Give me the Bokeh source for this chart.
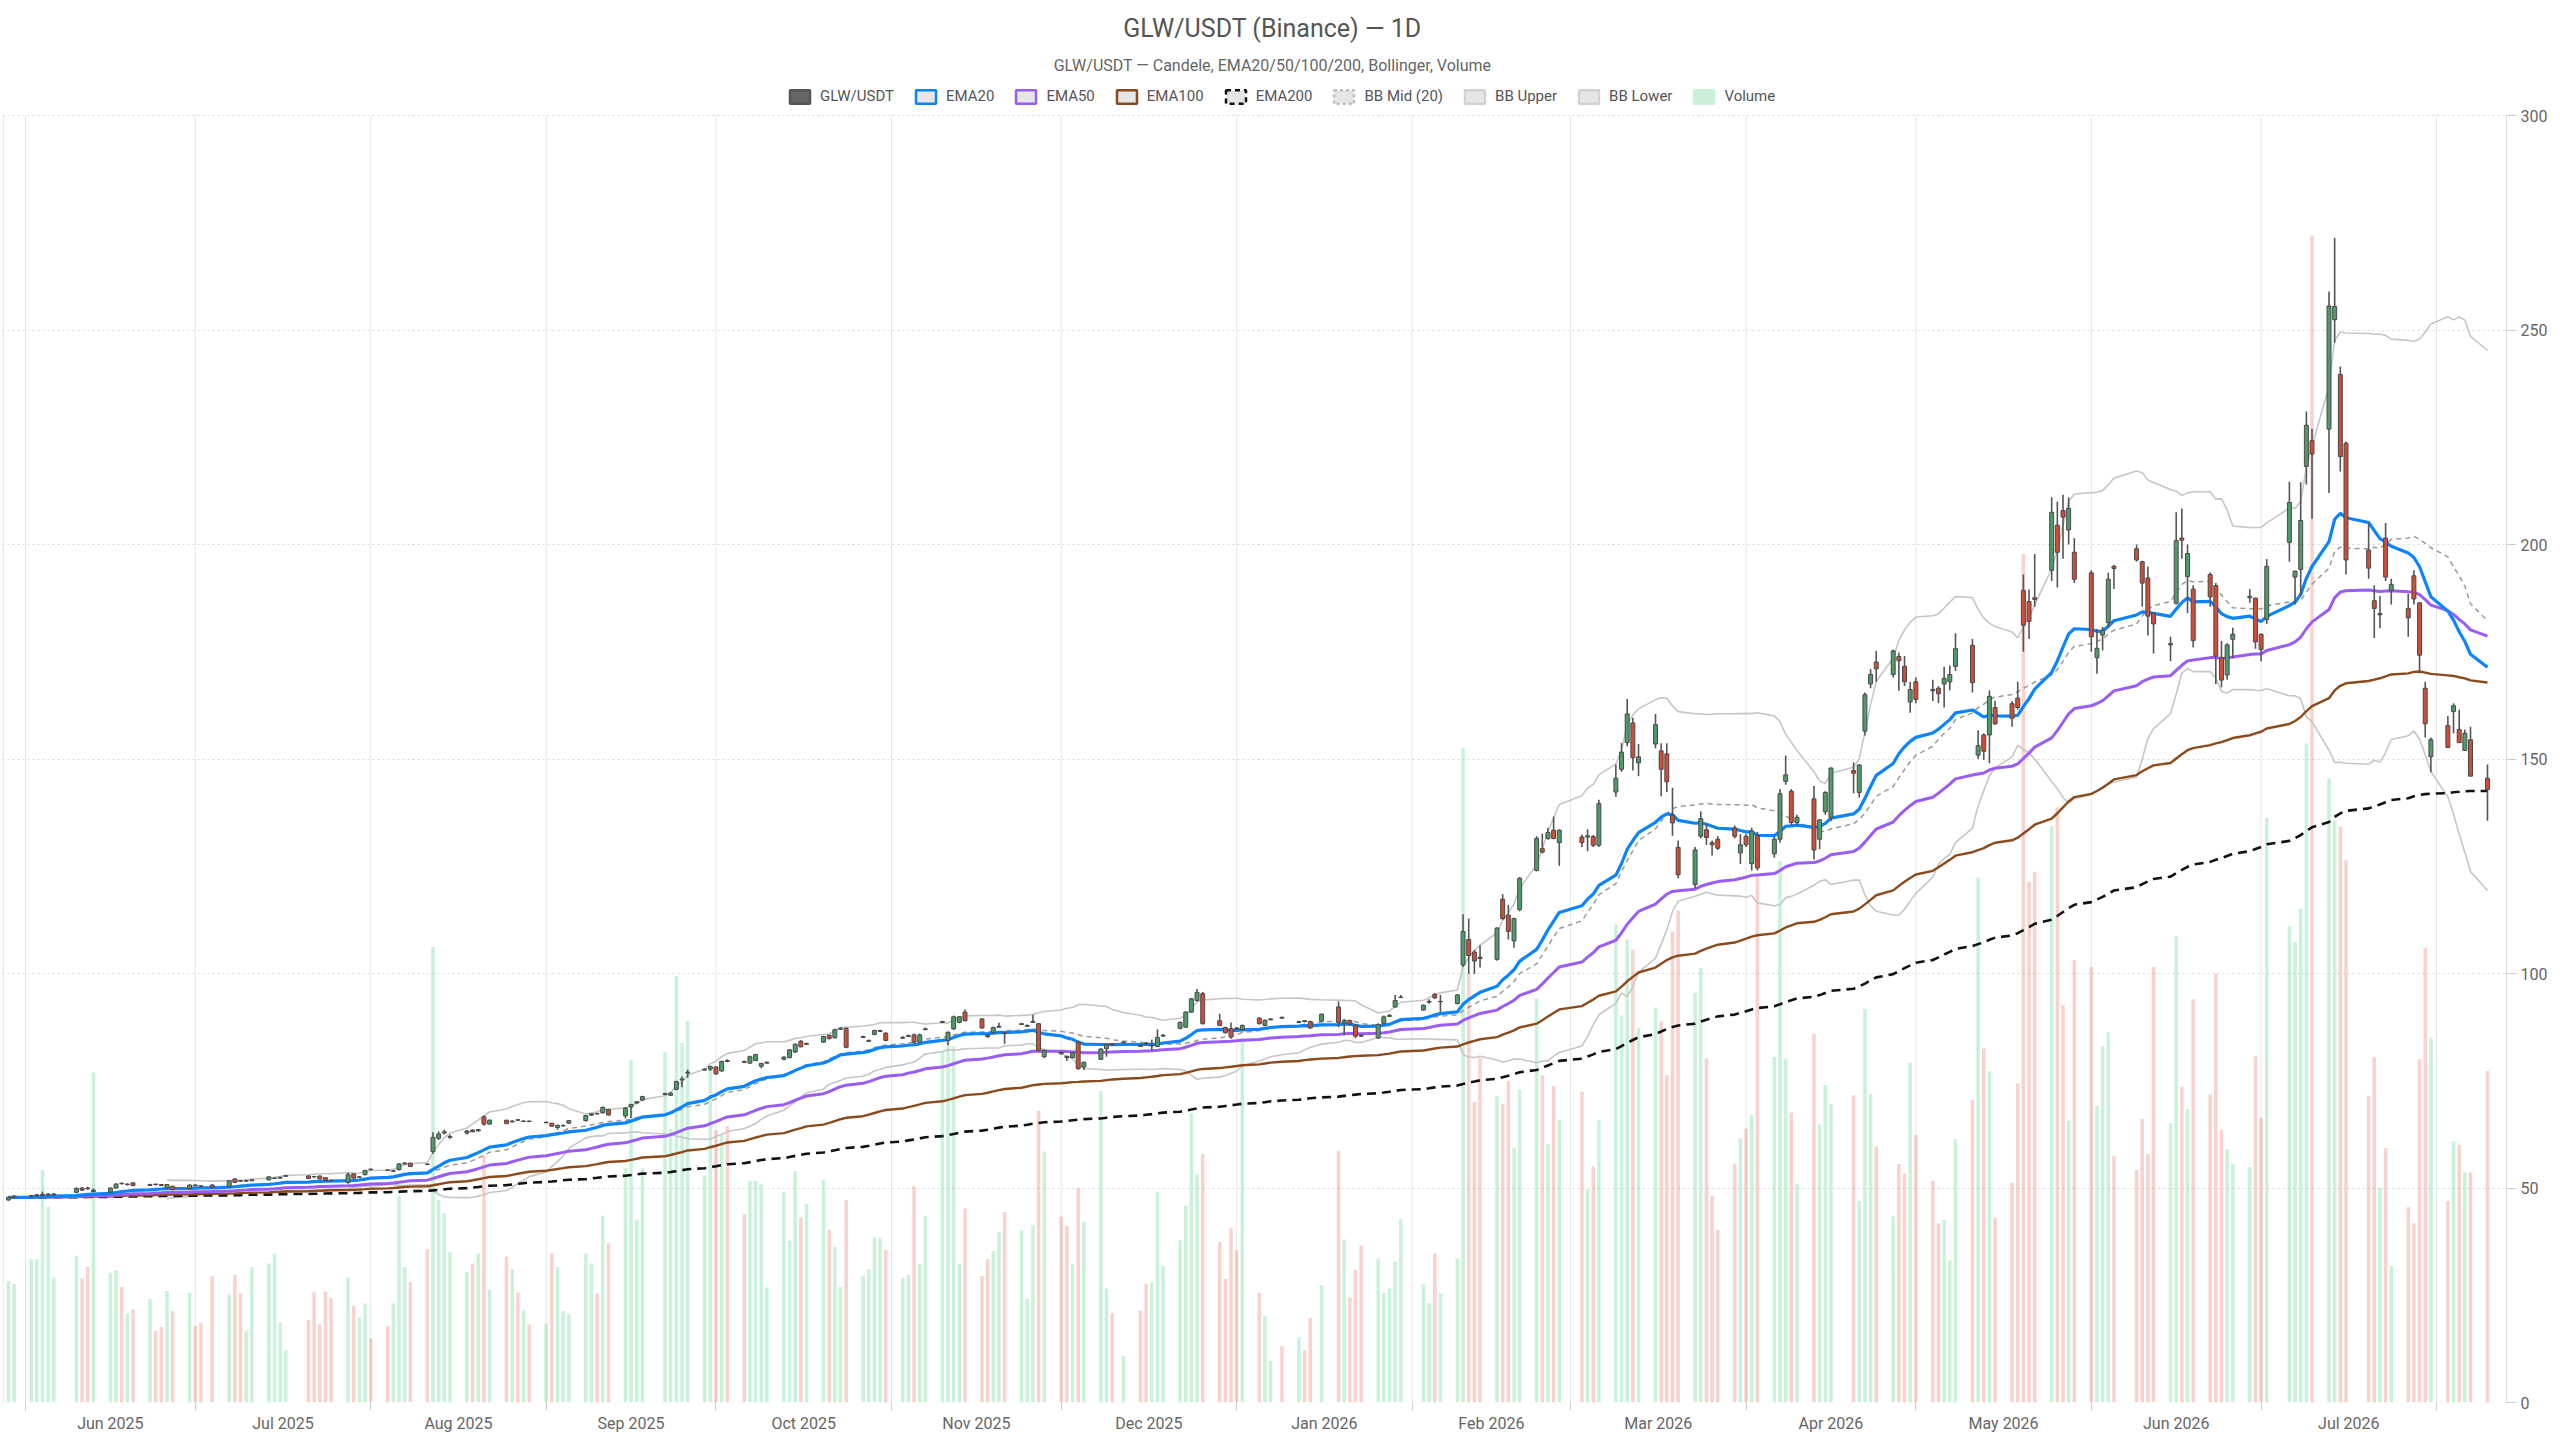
import numpy as np
import pandas as pd
from bokeh.plotting import figure
from bokeh.models import (ColumnDataSource, Range1d, FixedTicker, DatetimeTickFormatter,
                          Legend, LegendItem, Label)
from bokeh.embed import file_html
from bokeh.resources import INLINE

# daily candles GLW/USDT
dates = [
    "2025-05-29", "2025-05-30",
    "2025-06-02", "2025-06-03", "2025-06-04", "2025-06-05", "2025-06-06",
    "2025-06-10", "2025-06-11", "2025-06-12", "2025-06-13",
    "2025-06-16", "2025-06-17", "2025-06-18", "2025-06-19", "2025-06-20",
    "2025-06-23", "2025-06-24", "2025-06-25", "2025-06-26", "2025-06-27",
    "2025-06-30", "2025-07-01", "2025-07-02", "2025-07-04",
    "2025-07-07", "2025-07-08", "2025-07-09", "2025-07-10", "2025-07-11",
    "2025-07-14", "2025-07-15", "2025-07-16", "2025-07-17",
    "2025-07-21", "2025-07-22", "2025-07-23", "2025-07-24", "2025-07-25",
    "2025-07-28", "2025-07-29", "2025-07-30", "2025-07-31", "2025-08-01",
    "2025-08-04", "2025-08-05", "2025-08-06", "2025-08-07", "2025-08-08",
    "2025-08-11", "2025-08-12", "2025-08-13", "2025-08-14", "2025-08-15",
    "2025-08-18", "2025-08-19", "2025-08-20", "2025-08-21", "2025-08-22",
    "2025-08-25", "2025-08-26", "2025-08-27", "2025-08-28", "2025-08-29",
    "2025-09-01", "2025-09-02", "2025-09-03", "2025-09-04", "2025-09-05",
    "2025-09-08", "2025-09-09", "2025-09-10", "2025-09-11", "2025-09-12",
    "2025-09-15", "2025-09-16", "2025-09-17", "2025-09-18",
    "2025-09-22", "2025-09-23", "2025-09-24", "2025-09-25", "2025-09-26",
    "2025-09-29", "2025-09-30", "2025-10-01", "2025-10-02", "2025-10-03",
    "2025-10-06", "2025-10-07", "2025-10-08", "2025-10-09", "2025-10-10",
    "2025-10-13", "2025-10-14", "2025-10-15", "2025-10-16", "2025-10-17",
    "2025-10-20", "2025-10-21", "2025-10-22", "2025-10-23", "2025-10-24",
    "2025-10-27", "2025-10-28", "2025-10-29", "2025-10-30", "2025-10-31",
    "2025-11-03", "2025-11-04", "2025-11-05", "2025-11-06", "2025-11-07",
    "2025-11-10", "2025-11-11", "2025-11-12", "2025-11-13", "2025-11-14",
    "2025-11-17", "2025-11-18", "2025-11-19", "2025-11-20", "2025-11-21",
    "2025-11-24", "2025-11-25", "2025-11-26", "2025-11-27", "2025-11-28",
    "2025-12-01", "2025-12-02", "2025-12-03", "2025-12-04", "2025-12-05",
    "2025-12-08", "2025-12-09", "2025-12-10", "2025-12-12",
    "2025-12-15", "2025-12-16", "2025-12-17", "2025-12-18", "2025-12-19",
    "2025-12-22", "2025-12-23", "2025-12-24", "2025-12-25", "2025-12-26",
    "2025-12-29", "2025-12-30", "2025-12-31", "2026-01-01", "2026-01-02",
    "2026-01-05", "2026-01-06", "2026-01-07", "2026-01-09",
    "2026-01-12", "2026-01-13", "2026-01-14", "2026-01-16",
    "2026-01-19", "2026-01-20", "2026-01-21", "2026-01-22", "2026-01-23",
    "2026-01-26", "2026-01-27", "2026-01-28", "2026-01-29", "2026-01-30",
    "2026-02-03", "2026-02-04", "2026-02-05", "2026-02-06",
    "2026-02-09", "2026-02-10", "2026-02-11", "2026-02-12", "2026-02-13",
    "2026-02-16", "2026-02-17", "2026-02-18", "2026-02-19", "2026-02-20",
    "2026-02-23", "2026-02-24", "2026-02-25", "2026-02-26", "2026-02-27",
    "2026-03-03", "2026-03-04", "2026-03-05", "2026-03-06",
    "2026-03-09", "2026-03-10", "2026-03-11", "2026-03-12", "2026-03-13",
    "2026-03-16", "2026-03-17", "2026-03-18", "2026-03-19", "2026-03-20",
    "2026-03-23", "2026-03-24", "2026-03-25", "2026-03-26", "2026-03-27",
    "2026-03-30", "2026-03-31", "2026-04-01", "2026-04-02", "2026-04-03",
    "2026-04-06", "2026-04-07", "2026-04-08", "2026-04-09", "2026-04-10",
    "2026-04-13", "2026-04-14", "2026-04-15", "2026-04-16",
    "2026-04-20", "2026-04-21", "2026-04-22", "2026-04-23", "2026-04-24",
    "2026-04-27", "2026-04-28", "2026-04-29", "2026-04-30", "2026-05-01",
    "2026-05-04", "2026-05-05", "2026-05-06", "2026-05-07", "2026-05-08",
    "2026-05-11", "2026-05-12", "2026-05-13", "2026-05-14", "2026-05-15",
    "2026-05-18", "2026-05-19", "2026-05-20", "2026-05-21", "2026-05-22",
    "2026-05-25", "2026-05-26", "2026-05-27", "2026-05-28", "2026-05-29",
    "2026-06-01", "2026-06-02", "2026-06-03", "2026-06-04", "2026-06-05",
    "2026-06-09", "2026-06-10", "2026-06-11", "2026-06-12",
    "2026-06-15", "2026-06-16", "2026-06-17", "2026-06-18", "2026-06-19",
    "2026-06-22", "2026-06-23", "2026-06-24", "2026-06-25", "2026-06-26",
    "2026-06-29", "2026-06-30", "2026-07-01", "2026-07-02",
    "2026-07-06", "2026-07-07", "2026-07-08", "2026-07-09", "2026-07-10",
    "2026-07-13", "2026-07-14", "2026-07-15", "2026-07-16",
    "2026-07-20", "2026-07-21", "2026-07-22", "2026-07-23", "2026-07-24",
    "2026-07-27", "2026-07-28", "2026-07-29", "2026-07-30", "2026-07-31",
    "2026-08-03", "2026-08-04", "2026-08-05", "2026-08-06", "2026-08-07",
    "2026-08-10",
]

opens = [
    47.2, 47.8, 48.1, 48.2, 48.3, 48.4, 48.5, 49.0, 50.0, 50.0, 49.2,
    49.0, 50.0, 51.1, 50.8, 51.2, 50.6, 50.9, 50.8, 50.0, 50.4,
    49.9, 50.7, 50.5, 50.7, 50.3, 52.1, 51.7, 51.6, 51.7,
    51.9, 52.2, 52.3, 52.7, 52.8, 52.7, 52.8, 52.4, 51.8,
    51.3, 53.3, 52.5, 53.1, 54.4, 54.2, 53.9, 54.3, 55.6, 55.8,
    55.6, 58.5, 61.6, 62.8, 61.8, 62.8, 63.5, 63.3, 66.6, 64.9,
    65.8, 65.4, 65.9, 65.5, 65.6, 65.2, 65.1, 64.1, 64.5, 65.1,
    65.7, 67.0, 67.4, 67.5, 68.3, 66.8, 68.9, 69.8, 70.5,
    71.8, 71.6, 73.0, 75.2, 76.8, 77.5, 77.7, 78.2, 77.3, 79.7,
    79.5, 79.1, 79.7, 78.4, 79.1, 80.0, 80.4, 81.7, 84.2, 83.5,
    84.0, 85.6, 85.0, 87.0, 87.2, 85.1, 84.2, 85.8, 86.5, 86.1,
    84.9, 85.3, 85.7, 84.0, 86.9, 88.6, 84.4, 87.1, 88.6, 91.0,
    89.4, 85.6, 86.2, 87.5, 86.2, 88.1, 87.7, 88.6, 88.3, 80.6,
    81.6, 80.7, 80.4, 84.0, 78.2, 80.0, 82.5, 83.6, 83.9,
    83.3, 83.8, 83.1, 83.0, 85.4, 87.2, 87.5, 91.0, 93.7, 95.3,
    89.0, 87.4, 87.1, 87.3, 86.9, 89.6, 87.9, 89.2, 89.8,
    88.6, 89.0, 88.8, 88.9, 92.2, 88.5, 89.0, 87.9, 85.6,
    85.0, 88.3, 90.0, 92.2, 94.4, 91.5, 93.3, 95.1, 93.4,
    93.0, 102.0, 107.9, 105.0, 103.8, 103.3, 117.3, 113.6, 107.6, 114.9,
    124.0, 129.1, 131.5, 133.4, 130.5, 131.8, 131.8, 131.9, 129.9,
    142.3, 147.6, 153.8, 158.4, 149.1, 153.5, 151.9, 151.2, 136.9, 129.4,
    120.7, 132.0, 133.5, 130.5, 131.3, 133.9, 128.1, 132.0, 125.6, 132.2,
    127.9, 131.3, 144.8, 142.5, 135.2, 140.7, 131.3, 137.7, 136.4,
    147.3, 142.2, 156.5, 167.5, 172.6, 169.7, 173.9, 171.6, 163.3, 168.0,
    166.2, 166.5, 167.5, 168.0, 171.6, 176.5, 150.9, 155.6, 155.6, 162.0,
    162.9, 164.2, 189.3, 186.7, 187.6, 194.0, 204.5, 207.9, 203.4, 198.2,
    193.4, 173.6, 178.9, 181.8, 194.9, 199.0, 196.0, 192.2, 184.0,
    176.6, 186.3, 201.5, 192.5, 189.6, 193.0, 190.4, 173.6, 169.6, 177.9,
    187.6, 187.5, 179.1, 182.5, 200.5, 192.4, 194.2, 218.2, 224.2,
    226.9, 252.4, 239.6, 223.6, 198.7, 186.9, 183.6, 201.5, 189.3,
    185.1, 192.7, 186.4, 166.5, 150.5, 157.8, 161.1, 156.9, 152.0, 154.5,
    145.5,
]

highs = [
    48.0, 48.3, 48.3, 48.6, 49.2, 48.8, 48.8, 50.2, 50.2, 50.3, 49.9,
    50.1, 51.1, 51.3, 51.1, 51.3, 51.0, 51.0, 50.9, 50.9, 50.5,
    50.8, 50.8, 50.6, 50.9, 51.8, 52.3, 51.8, 51.9, 52.0,
    52.7, 52.5, 52.6, 53.0, 53.0, 52.8, 52.9, 52.5, 51.9,
    53.6, 53.4, 52.8, 54.2, 54.5, 54.3, 54.2, 55.8, 56.0, 55.9,
    55.7, 63.0, 63.2, 63.6, 62.5, 63.5, 63.7, 63.8, 66.9, 66.0,
    65.9, 65.8, 66.0, 65.8, 65.7, 65.5, 65.2, 64.8, 64.8, 65.8,
    67.0, 67.5, 67.5, 69.0, 68.5, 68.9, 69.6, 70.3, 71.5,
    72.2, 72.4, 75.0, 76.0, 77.6, 77.9, 78.5, 78.4, 79.7, 80.0,
    79.7, 80.8, 81.3, 79.2, 79.5, 80.7, 82.4, 83.7, 84.5, 83.9,
    85.5, 85.8, 87.1, 87.5, 87.4, 85.5, 84.6, 86.9, 86.9, 86.3,
    85.4, 85.8, 86.0, 86.0, 87.4, 89.0, 86.5, 90.2, 90.1, 91.6,
    89.6, 85.8, 87.6, 88.5, 86.4, 88.5, 88.1, 90.4, 88.5, 82.3,
    81.8, 80.8, 81.7, 84.3, 79.5, 82.6, 83.6, 83.7, 84.2,
    83.4, 84.0, 84.6, 87.0, 85.9, 88.8, 91.2, 94.3, 96.4, 95.7,
    90.6, 87.6, 88.6, 87.5, 88.1, 89.8, 89.3, 89.6, 89.9,
    89.0, 89.1, 89.0, 90.7, 93.5, 89.4, 89.2, 88.2, 85.8,
    88.4, 90.2, 90.6, 95.0, 95.0, 92.8, 94.0, 95.5, 95.0,
    95.2, 113.8, 112.8, 105.5, 106.6, 110.8, 118.5, 116.0, 113.0, 122.5,
    132.0, 132.6, 134.0, 136.6, 133.6, 132.4, 133.6, 132.3, 140.5,
    148.7, 153.7, 164.0, 159.6, 153.5, 160.5, 153.7, 153.7, 143.3, 131.0,
    129.5, 137.8, 135.0, 131.0, 132.0, 134.5, 132.5, 132.5, 134.0, 133.0,
    132.0, 143.0, 150.8, 143.0, 137.0, 143.7, 136.0, 142.5, 148.0,
    149.2, 148.8, 165.5, 171.0, 175.2, 175.5, 174.8, 174.0, 168.0, 169.0,
    168.5, 167.0, 171.5, 171.8, 179.3, 178.0, 156.7, 156.0, 166.0, 163.5,
    163.5, 168.0, 193.0, 189.5, 197.8, 211.0, 210.0, 211.6, 211.0, 201.5,
    194.0, 180.3, 180.8, 193.4, 195.3, 200.0, 196.2, 194.9, 184.2,
    178.5, 207.5, 208.4, 200.0, 190.5, 193.5, 191.0, 177.5, 177.0, 180.6,
    189.6, 187.6, 179.2, 196.6, 214.6, 193.9, 214.5, 231.0, 227.0,
    259.0, 271.5, 241.5, 224.0, 205.0, 190.5, 188.0, 205.0, 192.0,
    188.5, 194.0, 186.5, 168.0, 155.0, 160.0, 163.0, 161.5, 156.9, 157.5,
    148.7,
]

lows = [
    47.0, 47.6, 47.8, 48.0, 47.9, 48.1, 48.1, 48.8, 49.3, 49.6, 49.0,
    48.8, 49.9, 50.8, 50.6, 50.4, 50.5, 50.6, 50.4, 49.9, 49.5,
    49.8, 50.4, 50.2, 49.9, 50.1, 51.2, 51.4, 51.5, 51.6,
    51.8, 52.1, 52.2, 52.6, 52.1, 52.4, 52.0, 51.6, 51.5,
    51.0, 52.2, 52.4, 53.0, 54.1, 54.0, 53.8, 54.1, 55.5, 54.9,
    55.3, 57.9, 61.2, 62.5, 61.5, 62.5, 63.0, 63.2, 64.5, 64.8,
    64.9, 65.3, 65.6, 65.4, 65.3, 65.1, 64.3, 63.6, 64.3, 65.0,
    65.5, 66.8, 67.1, 67.4, 66.9, 66.2, 66.3, 69.7, 70.3,
    71.6, 71.5, 72.8, 73.5, 75.7, 77.3, 77.3, 76.4, 77.1, 79.3,
    79.1, 79.0, 79.6, 77.9, 79.0, 79.8, 80.2, 81.5, 82.8, 83.4,
    83.8, 84.7, 84.9, 86.9, 82.6, 85.0, 84.1, 85.6, 86.4, 84.2,
    84.8, 85.2, 83.6, 83.8, 86.8, 88.5, 83.3, 86.8, 88.4, 88.8,
    87.1, 85.0, 86.0, 87.3, 83.6, 88.0, 87.6, 88.5, 81.8, 80.3,
    81.1, 79.6, 80.2, 77.6, 77.5, 79.9, 80.6, 83.2, 83.8,
    82.9, 83.4, 82.0, 82.8, 85.3, 87.0, 87.3, 90.8, 93.5, 88.1,
    87.7, 86.0, 84.8, 86.9, 86.7, 88.1, 87.7, 89.1, 89.4,
    88.5, 88.6, 87.1, 88.7, 87.5, 85.6, 87.9, 84.9, 85.2,
    84.8, 88.1, 89.9, 92.0, 94.3, 91.3, 93.0, 94.1, 91.0,
    92.8, 101.5, 99.9, 99.9, 101.4, 103.0, 112.5, 107.9, 106.0, 114.5,
    123.8, 128.0, 131.2, 131.3, 125.1, 129.5, 128.5, 129.5, 129.5,
    141.2, 147.0, 153.0, 147.3, 146.0, 152.5, 141.3, 142.3, 132.1, 122.2,
    119.9, 131.5, 130.0, 127.5, 128.8, 131.5, 125.5, 129.5, 124.0, 124.0,
    127.0, 130.5, 144.0, 134.5, 134.5, 126.6, 129.0, 137.0, 135.5,
    142.0, 141.0, 155.5, 166.5, 168.0, 169.0, 165.9, 167.0, 160.8, 163.0,
    163.5, 163.0, 162.0, 166.0, 170.5, 165.5, 150.0, 149.8, 149.0, 158.0,
    157.5, 161.5, 175.0, 178.0, 185.5, 191.5, 190.0, 196.7, 200.0, 191.0,
    175.0, 169.9, 175.3, 180.5, 189.6, 196.0, 185.5, 178.8, 174.6,
    172.8, 186.0, 196.7, 184.0, 176.0, 185.5, 167.5, 166.7, 168.5, 173.5,
    186.4, 175.7, 172.8, 181.5, 196.0, 186.0, 188.0, 214.0, 206.0,
    212.0, 247.0, 217.0, 193.0, 192.0, 178.2, 180.5, 191.5, 186.0,
    178.5, 186.0, 170.0, 155.0, 146.9, 152.5, 156.0, 153.8, 152.0, 146.0,
    135.6,
]

closes = [
    47.8, 48.1, 48.2, 48.4, 48.5, 48.6, 48.6, 49.9, 49.5, 49.8, 49.5,
    50.0, 50.9, 51.0, 50.9, 50.6, 50.8, 50.8, 50.6, 50.8, 49.6,
    50.7, 50.5, 50.4, 50.1, 51.7, 51.3, 51.6, 51.7, 51.9,
    52.6, 52.3, 52.5, 52.9, 52.2, 52.6, 52.1, 51.7, 51.7,
    53.1, 52.3, 52.6, 54.1, 54.3, 54.1, 54.0, 55.6, 55.8, 55.0,
    55.5, 61.8, 62.6, 63.1, 62.0, 63.3, 63.1, 63.6, 64.9, 65.8,
    65.0, 65.6, 65.8, 65.6, 65.5, 65.3, 64.4, 64.6, 64.6, 65.7,
    66.9, 67.3, 67.3, 68.8, 67.0, 68.6, 69.5, 70.1, 71.3,
    72.0, 72.1, 74.8, 75.4, 77.0, 77.7, 78.3, 76.6, 79.5, 79.5,
    79.3, 80.6, 81.1, 79.0, 79.3, 80.5, 82.2, 83.5, 82.9, 83.7,
    85.3, 84.8, 86.9, 87.2, 82.8, 85.3, 84.4, 86.7, 86.7, 84.4,
    85.1, 85.5, 84.0, 85.7, 87.1, 88.8, 86.3, 89.9, 89.9, 89.0,
    87.3, 85.3, 87.4, 87.7, 86.0, 88.3, 87.9, 88.8, 82.1, 82.0,
    81.3, 80.4, 81.5, 77.8, 79.3, 82.4, 83.4, 83.4, 84.0,
    83.0, 83.6, 83.3, 85.1, 85.6, 88.6, 91.0, 94.1, 95.6, 88.3,
    87.9, 86.2, 85.2, 87.1, 87.9, 88.3, 89.1, 89.4, 89.6,
    88.8, 88.8, 87.3, 90.5, 88.6, 89.0, 88.2, 85.4, 85.4,
    88.1, 89.9, 90.2, 93.7, 94.5, 92.6, 93.5, 94.3, 93.5,
    95.0, 109.8, 104.2, 102.9, 103.5, 110.6, 112.8, 109.8, 112.8, 122.2,
    131.5, 128.3, 132.9, 131.5, 133.4, 130.5, 132.1, 129.9, 139.6,
    145.5, 151.6, 160.5, 150.3, 150.5, 158.0, 147.6, 144.7, 135.1, 123.0,
    128.8, 136.1, 131.7, 130.0, 129.2, 132.0, 130.0, 130.0, 133.2, 124.6,
    131.3, 141.9, 146.3, 135.2, 136.4, 128.8, 135.8, 142.2, 147.9,
    146.7, 148.6, 165.0, 169.7, 171.0, 175.2, 172.9, 168.0, 166.2, 163.9,
    165.9, 165.2, 168.8, 169.7, 175.7, 167.8, 153.1, 151.8, 164.6, 158.2,
    159.5, 162.0, 181.2, 182.1, 187.2, 207.5, 198.2, 206.4, 208.4, 191.9,
    178.5, 175.8, 180.0, 191.9, 194.4, 196.4, 191.0, 183.3, 181.5,
    176.9, 200.9, 201.0, 197.9, 177.6, 187.8, 174.0, 168.4, 176.6, 179.1,
    187.9, 177.3, 175.5, 194.9, 209.8, 193.8, 205.6, 227.8, 221.1,
    255.6, 255.5, 220.5, 196.4, 194.5, 185.1, 183.9, 192.4, 190.7,
    182.9, 187.3, 174.2, 158.2, 154.5, 152.7, 162.4, 153.8, 156.0, 146.0,
    142.9,
]

# volume in thousand units
volumes = [
    28.3, 27.6, 33.4, 33.4, 54.2, 45.6, 29.1, 34.2, 28.9, 31.6, 76.9,
    30.3, 30.8, 26.9, 20.7, 21.7, 24.2, 16.7, 17.6, 26.0, 21.3,
    25.6, 17.8, 18.6, 29.4, 25.2, 29.8, 25.4, 16.8, 31.6,
    32.4, 34.7, 18.6, 12.1, 19.2, 25.8, 18.2, 25.9, 24.3,
    29.1, 22.5, 19.9, 23.1, 14.9, 17.8, 23.1, 48.2, 31.5, 28.1,
    35.7, 106.2, 47.2, 44.1, 35.0, 30.5, 32.4, 34.7, 57.6, 26.2,
    34.0, 31.1, 25.6, 21.5, 18.2, 18.4, 34.7, 31.6, 21.3, 20.6,
    34.7, 32.4, 25.4, 43.5, 37.1, 54.6, 79.8, 42.5, 54.6,
    81.7, 63.8, 99.4, 83.8, 88.9, 52.9, 77.7, 63.4, 62.6, 64.4,
    43.9, 51.7, 51.7, 50.9, 26.8, 49.1, 37.7, 53.9, 43.1, 46.3,
    51.9, 40.2, 36.3, 26.9, 47.2, 29.5, 31.1, 38.5, 38.3, 35.5,
    29.1, 29.7, 50.5, 32.3, 43.5, 82.0, 84.0, 83.0, 32.3, 45.2,
    29.5, 33.4, 35.3, 39.8, 44.4, 40.1, 24.2, 41.3, 68.0, 58.5,
    43.3, 41.2, 32.3, 49.9, 42.1, 72.6, 26.6, 20.9, 10.8,
    21.4, 27.7, 27.9, 49.1, 31.8, 37.8, 45.8, 67.4, 53.2, 57.9,
    37.4, 28.8, 40.6, 35.5, 85.0, 25.6, 20.1, 9.7, 13.1,
    15.2, 12.1, 19.7, 27.4, 58.6, 38.0, 24.5, 30.9, 36.6,
    33.6, 25.6, 26.6, 32.8, 42.8, 27.5, 23.2, 34.7, 25.5,
    33.6, 152.5, 99.9, 70.1, 80.4, 71.5, 69.6, 74.9, 59.4, 72.9,
    94.2, 76.3, 60.2, 73.8, 65.8, 72.5, 49.7, 55.0, 65.8,
    111.4, 90.2, 107.9, 105.6, 87.3, 92.1, 88.8, 76.3, 109.8, 114.7,
    95.5, 101.3, 80.2, 48.2, 40.2, 55.6, 61.6, 63.8, 67.0, 123.3,
    80.6, 126.2, 80.2, 67.6, 51.0, 85.9, 64.8, 74.0, 69.6,
    71.6, 46.9, 91.7, 71.9, 59.7, 43.4, 55.6, 53.3, 79.2, 62.3,
    51.7, 41.8, 42.5, 33.1, 61.4, 70.6, 122.4, 82.5, 77.2, 43.1,
    51.2, 74.4, 197.8, 121.4, 123.7, 134.4, 138.7, 92.6, 65.7, 103.1,
    101.5, 69.1, 83.0, 86.3, 57.5, 54.2, 66.1, 57.9, 101.5,
    65.1, 108.7, 73.6, 68.4, 94.0, 71.8, 100.0, 63.6, 59.1, 55.7,
    54.9, 80.7, 66.4, 136.3, 111.0, 107.3, 115.1, 153.6, 272.0,
    145.5, 135.6, 134.2, 126.5, 71.5, 80.5, 50.0, 59.3, 31.8,
    45.5, 41.8, 80.0, 106.0, 85.1, 46.9, 60.9, 60.0, 53.6, 53.6,
    77.3,
]

price_ticks = [0, 50, 100, 150, 200, 250, 300]

DAY = 24 * 60 * 60 * 1000
FONT = "Roboto"
# frame covers the whole page height; the price area (0..300) is the lower 1287 px,
# the headroom above holds title, subtitle and legend
FRAME_W, FRAME_H = 2504, 1402
PRICE_TOP = 300
Y_TOP = PRICE_TOP * FRAME_H / 1287

df = pd.DataFrame({"date": pd.to_datetime(dates), "open": opens, "high": highs,
                   "low": lows, "close": closes, "volume": volumes})
up = df.close >= df.open
df["body_top"] = df[["open", "close"]].max(axis=1)
df["body_bottom"] = df[["open", "close"]].min(axis=1)
df["candle_color"] = np.where(up, "#4f9a69", "#cf4c36")
df["vol_color"] = np.where(up, "#2ecc71", "#e74c3c")

# indicators
for n in (20, 50, 100, 200):
    df[f"ema{n}"] = df.close.ewm(span=n, adjust=False).mean()
bb_mid = df.close.rolling(20).mean()
bb_std = df.close.rolling(20).std(ddof=0)
df["bb_mid"] = bb_mid
df["bb_upper"] = bb_mid + 2 * bb_std
df["bb_lower"] = bb_mid - 2 * bb_std

source = ColumnDataSource(df)

t_first = df.date.iloc[0].timestamp() * 1000
t_last = df.date.iloc[-1].timestamp() * 1000
x_start = t_first - 1.06 * DAY

p = figure(frame_width=FRAME_W, frame_height=FRAME_H, x_axis_type="datetime",
           y_axis_location="right",
           x_range=Range1d(x_start, t_last + 3.36 * DAY), y_range=Range1d(0, Y_TOP),
           title=None, output_backend="svg", toolbar_location=None, tools="")
p.extra_y_ranges = {"vol": Range1d(0, Y_TOP)}
p.outline_line_color = None
p.min_border_left = 2
p.min_border_right = 0
p.min_border_top = 0
p.min_border_bottom = 0

# month grid + mid-month labels
month_starts = pd.date_range("2025-06-01", "2026-08-01", freq="MS")
month_ticks = [t.timestamp() * 1000 for t in month_starts]
mid_ticks = [(a + b) / 2 for a, b in zip(month_ticks[:-1], month_ticks[1:])]

# vertical grid only over the price area
p.xgrid.visible = False
p.segment(x0=month_ticks, y0=0, x1=month_ticks, y1=PRICE_TOP,
          line_color="#e6e6e6", line_width=1)
p.segment(x0=[x_start + 0.12 * DAY], y0=[0], x1=[x_start + 0.12 * DAY], y1=[PRICE_TOP],
          line_color="#e0e0e0", line_width=1)

# volume underneath everything
p.vbar(x="date", width=0.62 * DAY, top="volume", bottom=0, y_range_name="vol",
       source=source, fill_color="vol_color", fill_alpha=0.26, line_color=None)

# bollinger
p.line("date", "bb_upper", source=source, line_color="#c6c6c6", line_width=1.6)
p.line("date", "bb_lower", source=source, line_color="#c6c6c6", line_width=1.6)
p.line("date", "bb_mid", source=source, line_color="#9a9a9a", line_width=1.5, line_dash="5 4")

# emas
p.line("date", "ema200", source=source, line_color="#111111", line_width=2.6, line_dash="9 6")
p.line("date", "ema100", source=source, line_color="#8b4a1c", line_width=2.4)
p.line("date", "ema50", source=source, line_color="#9a5cf6", line_width=3)
p.line("date", "ema20", source=source, line_color="#0a84ff", line_width=3.2)

# candles
p.segment(x0="date", y0="high", x1="date", y1="low", source=source,
          line_color="#555555", line_width=1.6)
p.vbar(x="date", width=0.7 * DAY, top="body_top", bottom="body_bottom", source=source,
       fill_color="candle_color", line_color="#4a4a4a", line_width=1)


def swatch(fill, line, dash="solid"):
    # invisible glyph only used to draw a box in the legend
    return p.quad(left=[np.nan], right=[np.nan], top=[np.nan], bottom=[np.nan],
                  fill_color=fill, line_color=line, line_width=2.5, line_dash=dash)


legend_items = [
    LegendItem(label="GLW/USDT", renderers=[swatch("#666666", "#555555")]),
    LegendItem(label="EMA20", renderers=[swatch("#e6e6e6", "#0a84ff")]),
    LegendItem(label="EMA50", renderers=[swatch("#e6e6e6", "#9a5cf6")]),
    LegendItem(label="EMA100", renderers=[swatch("#e6e6e6", "#8b4a1c")]),
    LegendItem(label="EMA200", renderers=[swatch("#e6e6e6", "#111111", "5 4")]),
    LegendItem(label="BB Mid (20)", renderers=[swatch("#e6e6e6", "#bdbdbd", "3 3")]),
    LegendItem(label="BB Upper", renderers=[swatch("#e6e6e6", "#d2d2d2")]),
    LegendItem(label="BB Lower", renderers=[swatch("#e6e6e6", "#d2d2d2")]),
    LegendItem(label="Volume", renderers=[swatch("#c8f1d8", "#c8f1d8")]),
]
# screen offsets are measured from the frame's bottom-left corner
legend = Legend(items=legend_items, orientation="horizontal", location=(785, FRAME_H - 105),
                glyph_width=25, glyph_height=17, label_standoff=8, spacing=19,
                label_text_font=FONT, label_text_font_size="15px", label_text_color="#555555",
                border_line_color=None, background_fill_alpha=0, padding=0, margin=0)
p.add_layout(legend)

p.add_layout(Label(x=1270, y=FRAME_H - 28, x_units="screen", y_units="screen",
                   text="GLW/USDT (Binance) — 1D", text_align="center", text_baseline="middle",
                   text_font=FONT, text_font_size="25px", text_color="#555555"))
p.add_layout(Label(x=1270, y=FRAME_H - 65, x_units="screen", y_units="screen",
                   text="GLW/USDT — Candele, EMA20/50/100/200, Bollinger, Volume",
                   text_align="center", text_baseline="middle",
                   text_font=FONT, text_font_size="16px", text_color="#666666"))

fmt = "%b %Y"
p.xaxis.ticker = FixedTicker(ticks=mid_ticks, minor_ticks=month_ticks)
p.xaxis.formatter = DatetimeTickFormatter(days=fmt, months=fmt, years=fmt, hours=fmt,
                                          hourmin=fmt, minutes=fmt)
p.xaxis.major_tick_line_color = None
p.xaxis.minor_tick_line_color = "#cccccc"
p.xaxis.minor_tick_in = 0
p.xaxis.minor_tick_out = 8
p.xaxis.axis_line_color = None
p.xaxis.major_label_text_font = FONT
p.xaxis.major_label_text_font_size = "16px"
p.xaxis.major_label_text_color = "#666666"
p.xaxis.major_label_standoff = 3

p.yaxis.ticker = price_ticks
p.yaxis.bounds = (0, PRICE_TOP)
p.yaxis.axis_line_color = "#dddddd"
p.yaxis.major_tick_line_color = "#cccccc"
p.yaxis.major_tick_in = 0
p.yaxis.major_tick_out = 10
p.yaxis.minor_tick_line_color = None
p.yaxis.major_label_text_font = FONT
p.yaxis.major_label_text_font_size = "16px"
p.yaxis.major_label_text_color = "#666666"
p.yaxis.major_label_standoff = 4

p.ygrid.grid_line_color = "#dadada"
p.ygrid.grid_line_dash = "2 3"

open("out.html", "w").write(file_html(p, INLINE))
